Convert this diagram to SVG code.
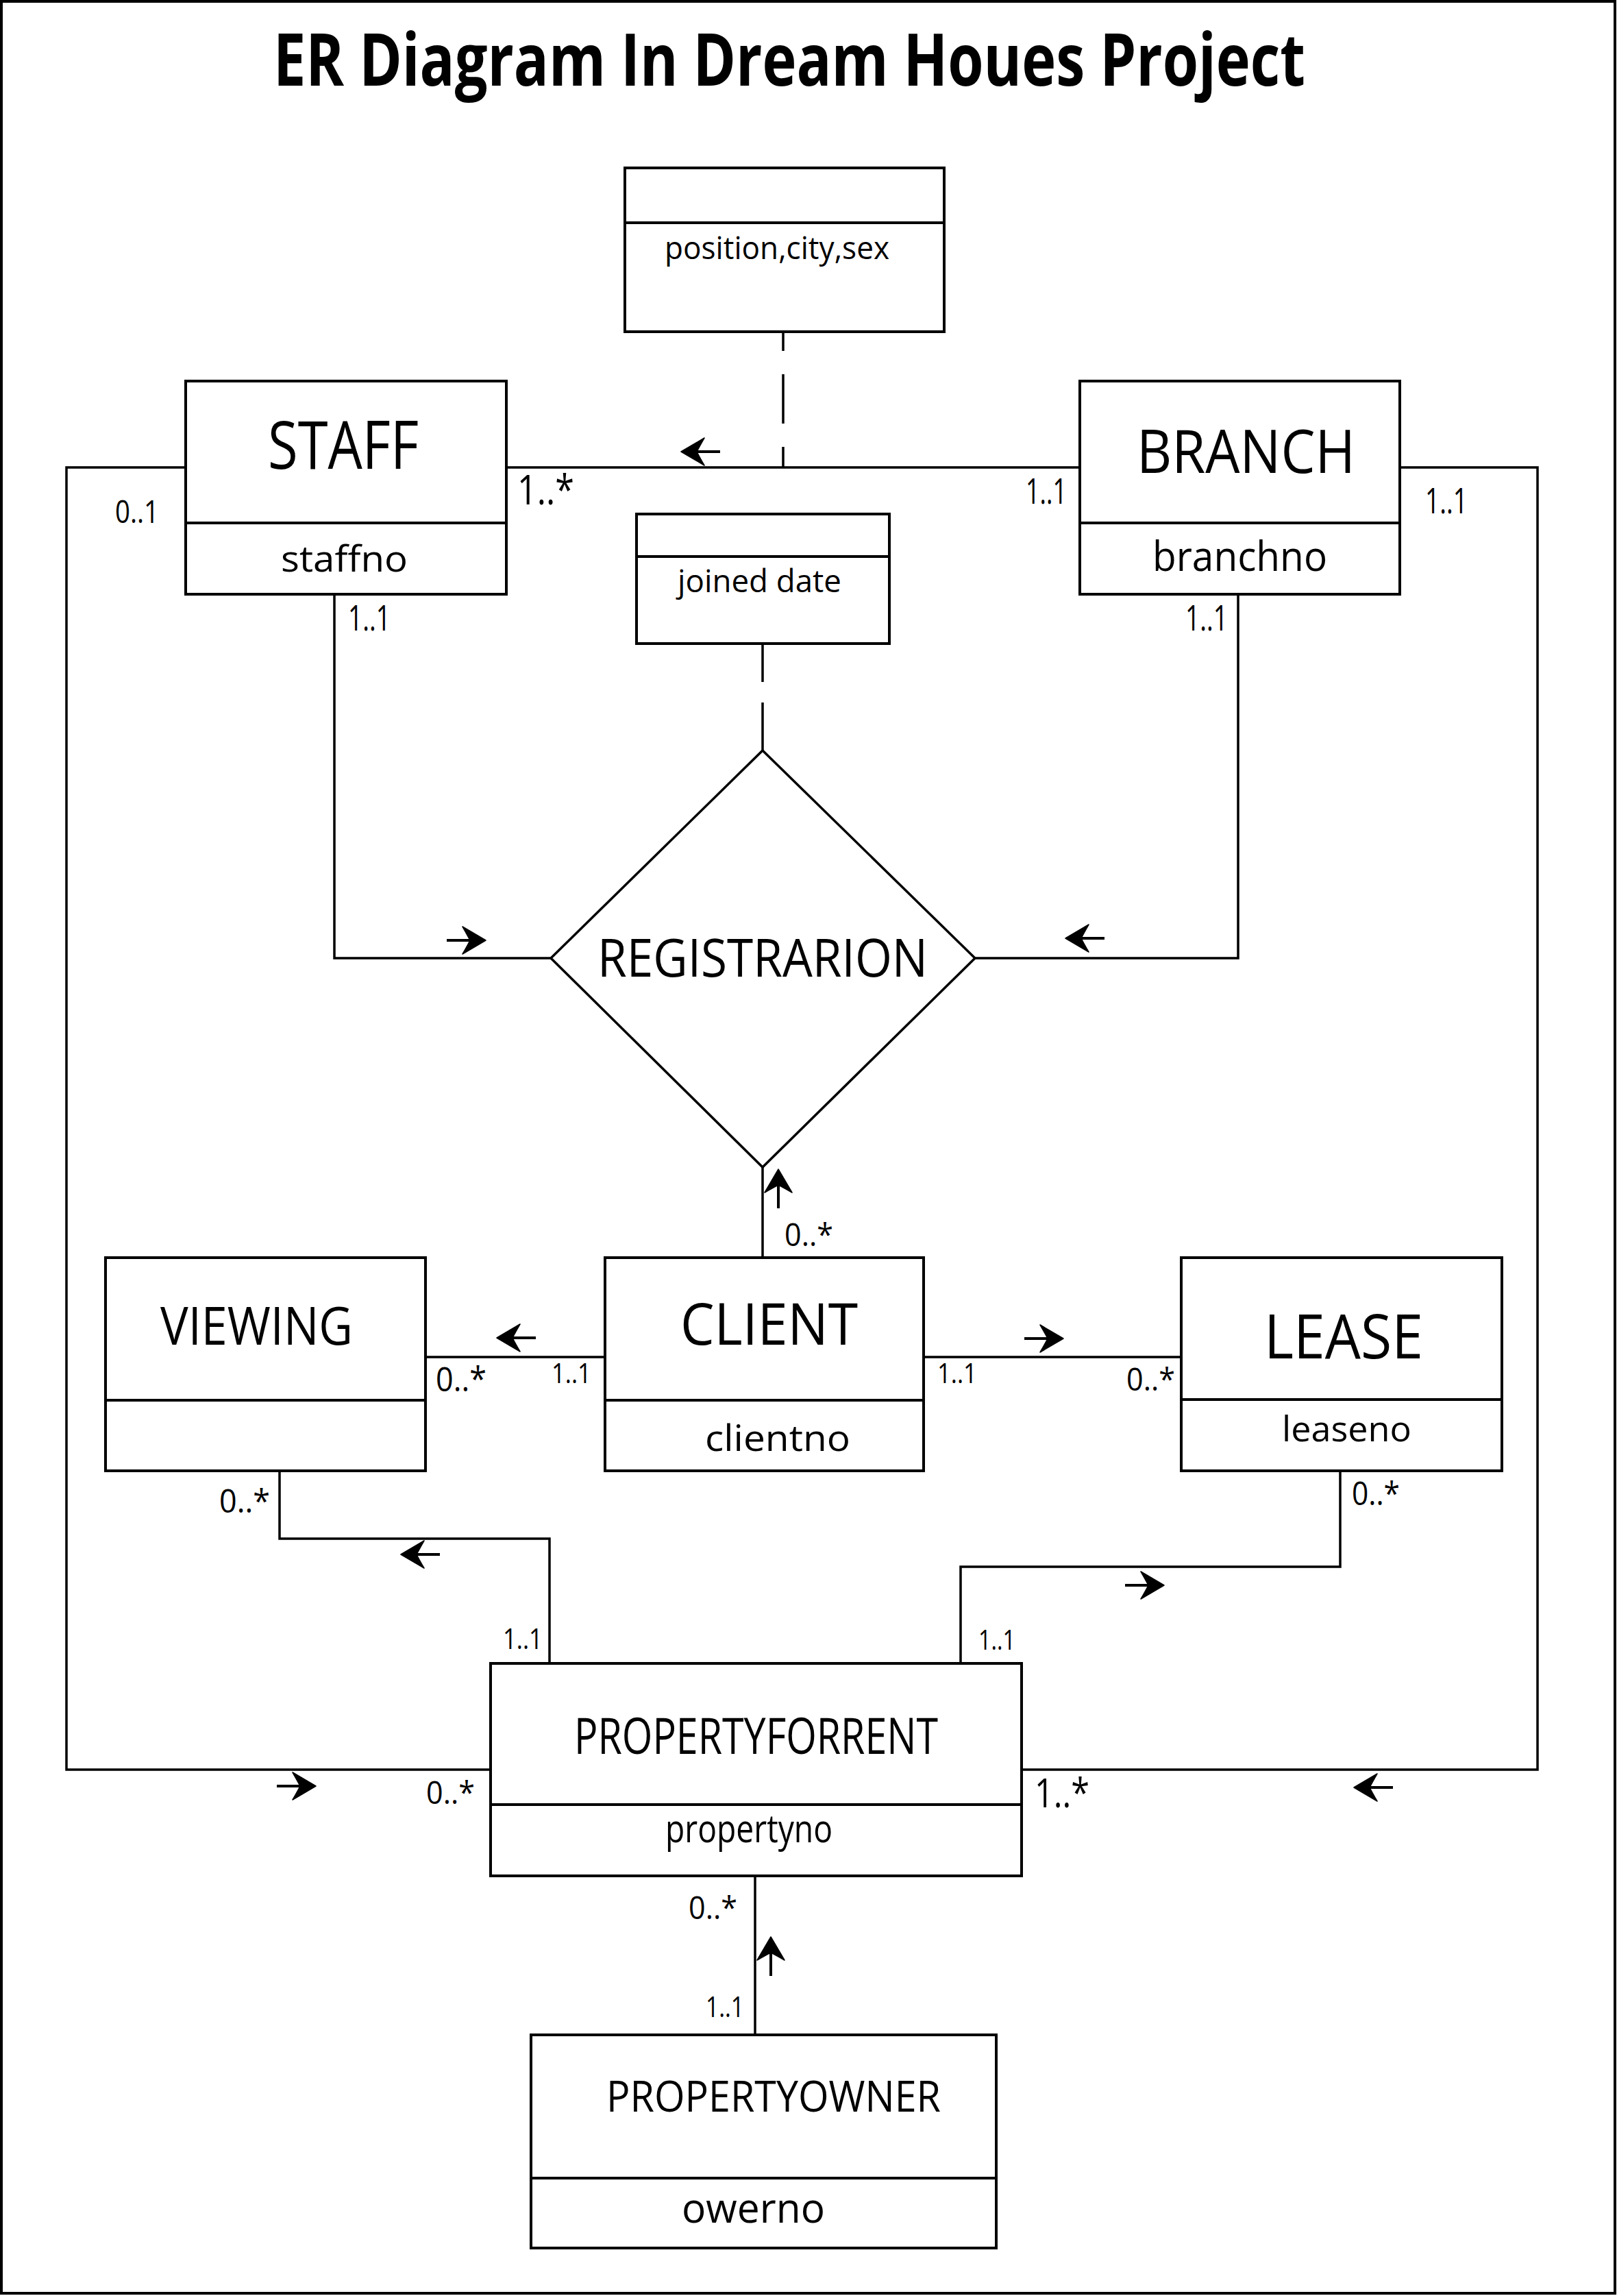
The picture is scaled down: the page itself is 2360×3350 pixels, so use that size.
<svg xmlns="http://www.w3.org/2000/svg" xmlns:xlink="http://www.w3.org/1999/xlink" width="2360" height="3350" viewBox="0 0 2360 3350">
<style>
  text { font-family: "Open Sans", "Noto Sans", "Liberation Sans", sans-serif; fill: #000; }
  .box { fill: #fff; stroke: #000; stroke-width: 4; }
  .div { stroke: #000; stroke-width: 4; }
  .con { fill: none; stroke: #000; stroke-width: 3.5; }
  .shaft { stroke: #000; stroke-width: 4; }
</style>
<defs>
  <g id="arrow">
    <line class="shaft" x1="-57" y1="0" x2="-20" y2="0"/>
    <path d="M0,0 L-34,-20 Q-27,-8 -23,0 Q-27,8 -34,20 Z" fill="#000" stroke="#000" stroke-width="1.5" stroke-linejoin="round"/>
  </g>
</defs>
<rect x="0" y="0" width="2360" height="3350" fill="#fff"/>
<rect x="2" y="2" width="2355" height="3344" fill="none" stroke="#000" stroke-width="4"/>

<text id="title" x="399" y="125" font-size="105" font-weight="700" textLength="1506" lengthAdjust="spacingAndGlyphs">ER Diagram In Dream Houes Project</text>

<g id="connectors">
  <path class="con" d="M739,682 H1576"/>
  <path class="con" d="M1143,484 V682" stroke-dasharray="72 34" stroke-dashoffset="44"/>
  <path class="con" d="M1113,939 V1095" stroke-dasharray="56 30 70 0"/>
  <path class="con" d="M488,867 V1398 H804"/>
  <path class="con" d="M1807,867 V1398 H1423"/>
  <path class="con" d="M1113,1703 V1835"/>
  <path class="con" d="M621,1980 H883"/>
  <path class="con" d="M1348,1980 H1724"/>
  <path class="con" d="M408,2146 V2245 H802 V2427"/>
  <path class="con" d="M1956,2146 V2286 H1402 V2427"/>
  <path class="con" d="M271,682 H97 V2582 H716"/>
  <path class="con" d="M2043,682 H2244 V2582 H1491"/>
  <path class="con" d="M1102,2737 V2969"/>

  <use xlink:href="#arrow" transform="translate(994,659) rotate(180)"/>
  <use xlink:href="#arrow" transform="translate(709,1372)"/>
  <use xlink:href="#arrow" transform="translate(1555,1369) rotate(180)"/>
  <use xlink:href="#arrow" transform="translate(1136,1706) rotate(-90)"/>
  <use xlink:href="#arrow" transform="translate(725,1952) rotate(180)"/>
  <use xlink:href="#arrow" transform="translate(1552,1953)"/>
  <use xlink:href="#arrow" transform="translate(585,2268) rotate(180)"/>
  <use xlink:href="#arrow" transform="translate(1699,2313)"/>
  <use xlink:href="#arrow" transform="translate(461,2606)"/>
  <use xlink:href="#arrow" transform="translate(1976,2608) rotate(180)"/>
  <use xlink:href="#arrow" transform="translate(1125,2826) rotate(-90)"/>

  <g id="cardinalities">
    <text x="755" y="736" font-size="60" textLength="83" lengthAdjust="spacingAndGlyphs">1..*</text>
    <text x="168" y="763" font-size="46" textLength="64" lengthAdjust="spacingAndGlyphs">0..1</text>
    <text x="508" y="920" font-size="52" textLength="62" lengthAdjust="spacingAndGlyphs">1..1</text>
    <text x="1497" y="735" font-size="52" textLength="60" lengthAdjust="spacingAndGlyphs">1..1</text>
    <text x="2080" y="749" font-size="52" textLength="62" lengthAdjust="spacingAndGlyphs">1..1</text>
    <text x="1730" y="920" font-size="52" textLength="62" lengthAdjust="spacingAndGlyphs">1..1</text>
    <text x="1145" y="1818" font-size="46" textLength="71" lengthAdjust="spacingAndGlyphs">0..*</text>
    <text x="636" y="2030" font-size="49" textLength="74" lengthAdjust="spacingAndGlyphs">0..*</text>
    <text x="805" y="2018" font-size="40" textLength="58" lengthAdjust="spacingAndGlyphs">1..1</text>
    <text x="1368" y="2018" font-size="40" textLength="58" lengthAdjust="spacingAndGlyphs">1..1</text>
    <text x="1644" y="2029" font-size="46" textLength="71" lengthAdjust="spacingAndGlyphs">0..*</text>
    <text x="320" y="2207" font-size="48" textLength="74" lengthAdjust="spacingAndGlyphs">0..*</text>
    <text x="1973" y="2196" font-size="48" textLength="70" lengthAdjust="spacingAndGlyphs">0..*</text>
    <text x="734" y="2406" font-size="42" textLength="58" lengthAdjust="spacingAndGlyphs">1..1</text>
    <text x="1428" y="2407" font-size="41" textLength="54" lengthAdjust="spacingAndGlyphs">1..1</text>
    <text x="622" y="2632" font-size="46" textLength="71" lengthAdjust="spacingAndGlyphs">0..*</text>
    <text x="1510" y="2637" font-size="59" textLength="80" lengthAdjust="spacingAndGlyphs">1..*</text>
    <text x="1005" y="2800" font-size="46" textLength="71" lengthAdjust="spacingAndGlyphs">0..*</text>
    <text x="1030" y="2943" font-size="42" textLength="56" lengthAdjust="spacingAndGlyphs">1..1</text>
  </g>
</g>

<g id="staff-branch-attributes">
  <rect class="box" x="912" y="245" width="466" height="239"/>
  <line class="div" x1="912" y1="325" x2="1378" y2="325" stroke-width="5"/>
  <text x="970" y="378" font-size="46" textLength="328" lengthAdjust="spacingAndGlyphs">position,city,sex</text>
</g>

<g id="registration-attributes">
  <rect class="box" x="929" y="750" width="369" height="189"/>
  <line class="div" x1="929" y1="812" x2="1298" y2="812" stroke-width="5"/>
  <text x="989" y="864" font-size="46" textLength="239" lengthAdjust="spacingAndGlyphs">joined date</text>
</g>

<g id="staff">
  <rect class="box" x="271" y="556" width="468" height="311"/>
  <line class="div" x1="271" y1="763" x2="739" y2="763"/>
  <text x="391" y="684" font-size="97" textLength="220" lengthAdjust="spacingAndGlyphs">STAFF</text>
  <text x="410" y="834" font-size="53" textLength="185" lengthAdjust="spacingAndGlyphs">staffno</text>
</g>

<g id="branch">
  <rect class="box" x="1576" y="556" width="467" height="311"/>
  <line class="div" x1="1576" y1="763" x2="2043" y2="763"/>
  <text x="1659" y="690" font-size="88" textLength="319" lengthAdjust="spacingAndGlyphs">BRANCH</text>
  <text x="1682" y="833" font-size="60" textLength="255" lengthAdjust="spacingAndGlyphs">branchno</text>
</g>

<g id="registration">
  <polygon points="1113,1095 1423,1398 1113,1703 804,1398" fill="#fff" stroke="#000" stroke-width="3.5"/>
  <text x="872" y="1425" font-size="76" textLength="482" lengthAdjust="spacingAndGlyphs">REGISTRARION</text>
</g>

<g id="viewing">
  <rect class="box" x="154" y="1835" width="467" height="311"/>
  <line class="div" x1="154" y1="2043" x2="621" y2="2043"/>
  <text x="234" y="1962" font-size="77" textLength="281" lengthAdjust="spacingAndGlyphs">VIEWING</text>
</g>

<g id="client">
  <rect class="box" x="883" y="1835" width="465" height="311"/>
  <line class="div" x1="883" y1="2043" x2="1348" y2="2043"/>
  <text x="993" y="1962" font-size="84" textLength="259" lengthAdjust="spacingAndGlyphs">CLIENT</text>
  <text x="1029" y="2117" font-size="53" textLength="212" lengthAdjust="spacingAndGlyphs">clientno</text>
</g>

<g id="lease">
  <rect class="box" x="1724" y="1835" width="468" height="311"/>
  <line class="div" x1="1724" y1="2042" x2="2192" y2="2042"/>
  <text x="1845" y="1982" font-size="90" textLength="232" lengthAdjust="spacingAndGlyphs">LEASE</text>
  <text x="1871" y="2103" font-size="52" textLength="189" lengthAdjust="spacingAndGlyphs">leaseno</text>
</g>

<g id="propertyforrent">
  <rect class="box" x="716" y="2427" width="775" height="310"/>
  <line class="div" x1="716" y1="2633" x2="1491" y2="2633"/>
  <text x="838" y="2559" font-size="74" textLength="531" lengthAdjust="spacingAndGlyphs">PROPERTYFORRENT</text>
  <text x="971" y="2688" font-size="56" textLength="244" lengthAdjust="spacingAndGlyphs">propertyno</text>
</g>

<g id="propertyowner">
  <rect class="box" x="775" y="2969" width="679" height="311"/>
  <line class="div" x1="775" y1="3178" x2="1454" y2="3178"/>
  <text x="885" y="3081" font-size="63" textLength="488" lengthAdjust="spacingAndGlyphs">PROPERTYOWNER</text>
  <text x="995" y="3243" font-size="60" textLength="209" lengthAdjust="spacingAndGlyphs">owerno</text>
</g>
</svg>
